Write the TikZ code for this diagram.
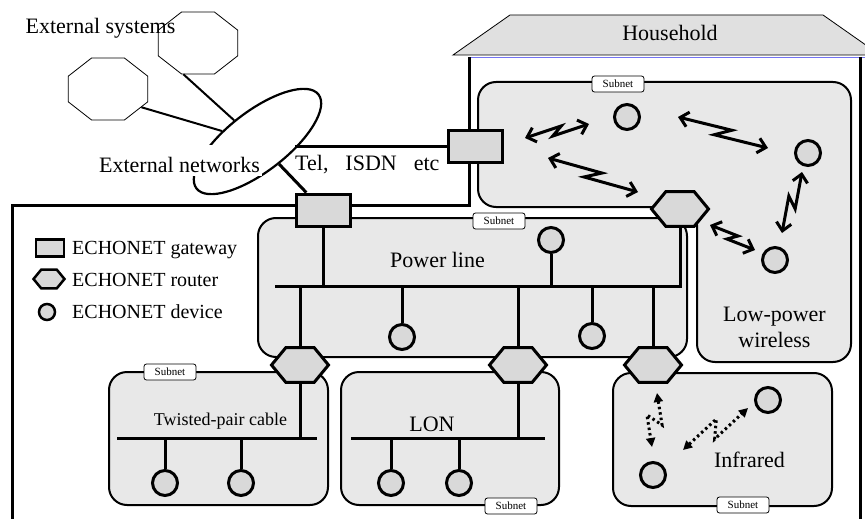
\documentclass[tikz,border=0pt]{standalone}
\usepackage{fontspec}
\setmainfont{Liberation Serif}
\usetikzlibrary{arrows.meta, shapes.geometric, calc}
\definecolor{boxgray}{gray}{0.91}
\definecolor{unitgray}{gray}{0.85}
\definecolor{roofgray}{gray}{0.88}
\definecolor{wallblue}{rgb}{0.45,0.45,0.95}
\tikzset{
  zap/.style={to path={-- ($(\tikztostart)!0.58!(\tikztotarget)!#1!90:(\tikztotarget)$)
    -- ($(\tikztostart)!0.42!(\tikztotarget)!#1!-90:(\tikztotarget)$) -- (\tikztotarget)}},
  zap/.default=5pt
}
\begin{document}
\begin{tikzpicture}[x=1pt, y=-1pt,
  every node/.style={inner sep=0pt},
  bigtext/.style={font=\fontsize{22}{26}\selectfont},
  keytext/.style={font=\fontsize{20}{24}\selectfont, anchor=base west},
  subnet/.style={draw, line width=2, fill=boxgray, rounded corners=18},
  subnettag/.style={draw, line width=0.8, fill=white, rounded corners=2.5, minimum width=52, minimum height=16, font=\fontsize{11}{11}\selectfont},
  extsys/.style={draw, line width=0.8, regular polygon, regular polygon sides=8, minimum size=86, yscale=0.78},
  device/.style={draw, circle, line width=3, fill=unitgray, minimum size=25},
  gateway/.style={draw, rectangle, line width=3, fill=unitgray, minimum width=54, minimum height=32},
  router/.style={draw, regular polygon, regular polygon sides=6, line width=3, fill=unitgray, minimum size=57, yscale=0.7},
  busline/.style={line width=3},
  radiolink/.style={line width=3, {Straight Barb[length=8pt,width=15pt]}-{Straight Barb[length=8pt,width=15pt]}},
  irlink/.style={line width=3, dash pattern=on 2.5pt off 3pt, {Triangle[length=9pt,width=9pt]}-{Triangle[length=9pt,width=9pt]}}
]
\useasboundingbox (0,0) rectangle (865,519);

\filldraw[fill=roofgray, draw=black, line width=0.8] (453,55) -- (510,15) -- (823,15) -- (880,55) -- cycle;
\draw[wallblue, line width=0.8] (469,57) -- (866,57);
\draw[line width=3] (12,522) -- (12,205) -- (469,205) -- (469,57);
\draw[line width=3] (860,57) -- (860,522);
\node[bigtext, anchor=base] (household) at (670,41) {Household};

\draw[subnet] (478,82) -- (851,82) -- (851,362) -- (697,362) -- (697,207) -- (478,207) -- cycle;
\draw[subnet] (258,218) rectangle (687,357);
\draw[subnet] (109,372) rectangle (328,505);
\draw[subnet] (341,372) rectangle (559,505);
\draw[subnet] (613,373) rectangle (832,506);

\node[subnettag] (tagWireless) at (618,84) {Subnet};
\node[subnettag] (tagPower) at (499,221) {Subnet};
\node[subnettag] (tagTwisted) at (170,372) {Subnet};
\node[subnettag] (tagLon) at (511,506) {Subnet};
\node[subnettag] (tagInfrared) at (743,505) {Subnet};

\node[bigtext, anchor=base] (txtPower) at (437.5,267) {Power line};
\node[bigtext, align=center] (txtLowPower) at (774.5,327.7) {Low-power\\wireless};
\node[font=\fontsize{18}{22}\selectfont, anchor=base] (txtTwisted) at (220.5,425) {Twisted-pair cable};
\node[bigtext, anchor=base] (txtLon) at (432,431) {LON};
\node[bigtext, anchor=base] (txtInfrared) at (749.5,467) {Infrared};

\node[bigtext, anchor=base] (txtSystems) at (100.5,34) {External systems};
\node[extsys] (sysUpper) at (198,43) {};
\node[extsys] (sysLower) at (108,89) {};
\node[draw, ellipse, line width=2.2, minimum width=154, minimum height=60, rotate=37.6] (extnet) at (257.5,141.5) {};
\draw[line width=2] (sysUpper.250) -- (extnet);
\draw[line width=2] (sysLower.-35) -- (extnet);
\node[bigtext, anchor=base, fill=white, inner xsep=2, inner ysep=4, text height=23, text depth=0] (txtNetworks) at (179.5,172) {External networks};
\node[bigtext, anchor=base west] (txtTel) at (295,170) {Tel,\hspace{17pt}ISDN\hspace{17pt}etc};

\node[gateway] (gwTel) at (475,146) {};
\node[gateway] (gwPower) at (323,210) {};
\coordinate (telEnd) at (295,146);
\draw[busline] (telEnd) -- (gwTel);
\draw[busline] (extnet) -- (gwPower);

\node[router] (rtWireless) at (680,209) {};
\node[router] (rtTwisted) at (300,365) {};
\node[router] (rtLon) at (518,365) {};
\node[router] (rtInfrared) at (653,365) {};

\node[device] (pwrDevA) at (551,240) {};
\node[device] (pwrDevB) at (402,337) {};
\node[device] (pwrDevC) at (592,336) {};
\node[device] (wlDevA) at (627,117) {};
\node[device] (wlDevB) at (808,153) {};
\node[device] (wlDevC) at (775,260) {};
\node[device] (tpDevA) at (165,483) {};
\node[device] (tpDevB) at (241,483) {};
\node[device] (lonDevA) at (391,483) {};
\node[device] (lonDevB) at (459,483) {};
\node[device] (irDevA) at (768,400) {};
\node[device] (irDevB) at (653,475) {};

\coordinate (pwrW) at (275,286);
\coordinate (pwrE) at (681.5,286);
\draw[busline] (pwrW) -- (pwrE);
\foreach \n in {gwPower, rtWireless, pwrDevA, pwrDevB, pwrDevC, rtTwisted, rtLon, rtInfrared}
  \draw[busline] (\n) -- (\n |- pwrW);

\coordinate (tpW) at (117,438);
\coordinate (tpE) at (317,438);
\draw[busline] (tpW) -- (tpE);
\foreach \n in {rtTwisted, tpDevA, tpDevB}
  \draw[busline] (\n) -- (\n |- tpW);

\coordinate (lonW) at (351,438);
\coordinate (lonE) at (545,438);
\draw[busline] (lonW) -- (lonE);
\foreach \n in {rtLon, lonDevA, lonDevB}
  \draw[busline] (\n) -- (\n |- lonW);

\node[gateway, line width=2.5, minimum width=28, minimum height=17] (keyGateway) at (50,248) {};
\node[router, line width=2.5, minimum size=31] (keyRouter) at (49,279) {};
\node[device, line width=2.5, minimum size=16] (keyDevice) at (47,312) {};
\node[keytext] (keyGatewayText) at (72,254) {ECHONET gateway};
\node[keytext] (keyRouterText) at (72,286) {ECHONET router};
\node[keytext] (keyDeviceText) at (72,318) {ECHONET device};

\coordinate (wl1a) at (525,138);
\coordinate (wl1b) at (589,124);
\coordinate (wl2a) at (548,158);
\coordinate (wl2b) at (638,192);
\coordinate (wl3a) at (678,117);
\coordinate (wl3b) at (768,148);
\coordinate (wl4a) at (802,172);
\coordinate (wl4b) at (782,233);
\coordinate (wl5a) at (710,225);
\coordinate (wl5b) at (755,250);
\draw[radiolink] (wl1a) to[zap=4pt] (wl1b);
\draw[radiolink] (wl2a) to[zap] (wl2b);
\draw[radiolink] (wl3a) to[zap] (wl3b);
\draw[radiolink] (wl4a) to[zap] (wl4b);
\draw[radiolink] (wl5a) to[zap=4pt] (wl5b);

\coordinate (ir1a) at (657,393);
\coordinate (ir1b) at (652,447);
\coordinate (ir2a) at (683,450);
\coordinate (ir2b) at (748,408);
\draw[irlink] (ir1a) to[zap=8pt] (ir1b);
\draw[irlink] (ir2a) to[zap=8pt] (ir2b);
\end{tikzpicture}
\end{document}
